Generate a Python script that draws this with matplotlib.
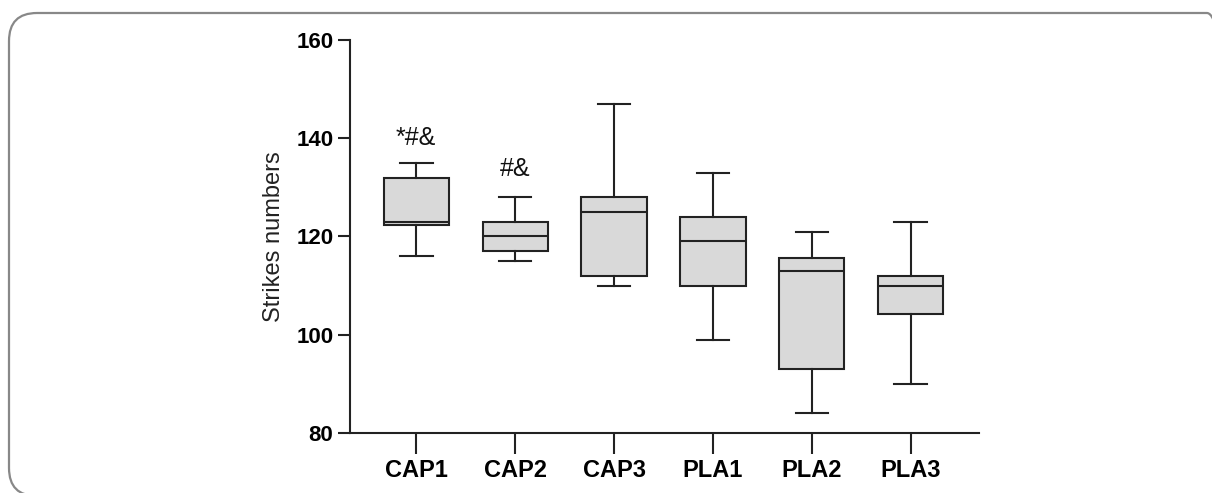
import matplotlib
matplotlib.use('Agg')
import matplotlib.pyplot as plt
from matplotlib.patches import FancyBboxPatch

plt.rcParams['font.family'] = ['Liberation Sans', 'DejaVu Sans']

# box plot values
groups = ['CAP1', 'CAP2', 'CAP3', 'PLA1', 'PLA2', 'PLA3']
whislo = [116, 115, 110, 99, 84, 90]
q1 = [122.3, 117, 112, 110, 93, 104.2]
med = [123, 120, 125, 119, 113, 110]
q3 = [132, 123, 128, 124, 115.6, 112]
whishi = [135, 128, 147, 133, 121, 123]
marks = ['*#&', '#&', '', '', '', '']
mark_y = [140, 133.7, None, None, None, None]

stats = []
for i in range(len(groups)):
    stats.append({'label': groups[i], 'whislo': whislo[i], 'q1': q1[i],
                  'med': med[i], 'q3': q3[i], 'whishi': whishi[i], 'fliers': []})

fig = plt.figure(figsize=(12.12, 4.93), dpi=100)
ax = fig.add_axes([350/1212, 1 - 433/493, 629/1212, 393/493])

lc = '#222222'
lw = 1.5
pos = list(range(1, len(groups) + 1))
ax.bxp(stats, positions=pos, widths=0.66, patch_artist=True, showfliers=False,
       boxprops=dict(facecolor='#d9d9d9', edgecolor=lc, linewidth=lw),
       medianprops=dict(color=lc, linewidth=lw),
       whiskerprops=dict(color=lc, linewidth=lw),
       capprops=dict(color=lc, linewidth=lw),
       capwidths=0.33)

for p, m, y in zip(pos, marks, mark_y):
    if m:
        ax.text(p, y, m, ha='center', va='center', fontsize=18, color='#111111')

ax.set_xlim(0.33, 6.69)
ax.set_ylim(80, 160)
ax.set_yticks([80, 100, 120, 140, 160])
ax.set_xticks(pos)
ax.set_xticklabels(groups, fontsize=17, fontweight='bold')
for t in ax.get_yticklabels():
    t.set_fontsize(16)
    t.set_fontweight('bold')
ax.set_ylabel('Strikes numbers', fontsize=17, color='#222222', labelpad=8)

for s in ['top', 'right']:
    ax.spines[s].set_visible(False)
for s in ['left', 'bottom']:
    ax.spines[s].set_linewidth(1.5)
    ax.spines[s].set_color(lc)
ax.tick_params(axis='y', length=9, width=1.5, color=lc, pad=3)
ax.tick_params(axis='x', length=15, width=1.5, color=lc, pad=4)

# rounded grey frame around the figure (right side runs off the image)
frame = FancyBboxPatch((0.09, -0.03), 12.26, 4.83,
                       boxstyle='round,pad=0,rounding_size=0.28',
                       transform=fig.dpi_scale_trans, facecolor='none',
                       edgecolor='#888888', linewidth=1.6)
fig.add_artist(frame)

fig.savefig('out.png', dpi=100)
